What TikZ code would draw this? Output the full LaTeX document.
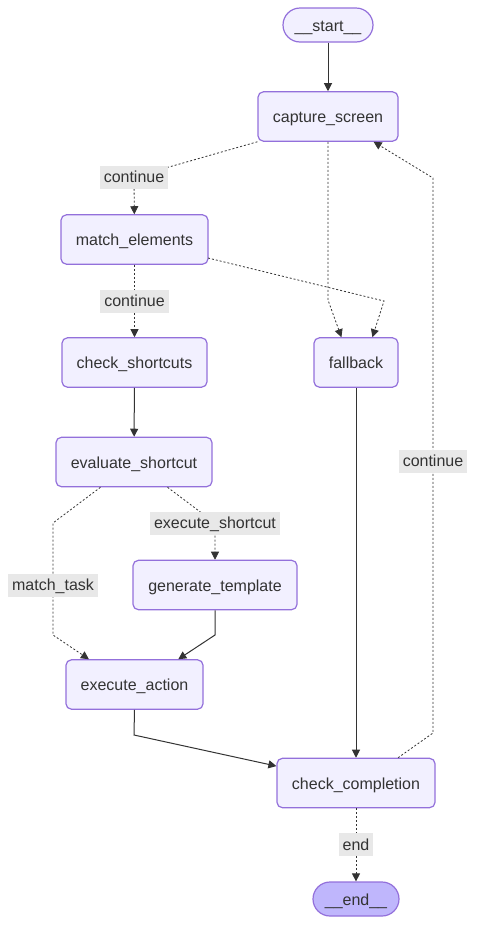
\documentclass[tikz,border=0pt]{standalone}
\usepackage{fontspec}
\setmainfont{Liberation Sans}
\usetikzlibrary{arrows.meta}
\definecolor{mfill}{HTML}{F2F0FF}
\definecolor{mstroke}{HTML}{9370DB}
\definecolor{mterm}{HTML}{BFB6FC}
\definecolor{mtext}{HTML}{333333}
\definecolor{mlab}{HTML}{E8E8E8}
\tikzset{mnode/.style={draw=mstroke,fill=mfill,rounded corners=4pt,line width=0.9pt,minimum height=37pt,inner sep=0pt,text=mtext,text height=11.5pt,text depth=2.5pt,font=\fontsize{12}{14}\selectfont}}
\tikzset{mpill/.style={mnode,rounded corners=12.75pt,minimum height=25.5pt}}
\tikzset{medge/.style={draw=mtext,line width=0.75pt,-{Triangle[length=6pt,width=6pt]}}}
\tikzset{mdot/.style={medge,line width=0.6pt,dash pattern=on 1.5pt off 1.5pt}}
\tikzset{mlabel/.style={fill=mlab,text=mtext,font=\fontsize{12}{14}\selectfont,inner sep=0pt,inner xsep=3pt,text height=11pt,text depth=2.5pt,minimum height=17.25pt}}

\begin{document}
\begin{tikzpicture}[x=0.75pt,y=-0.75pt]
\useasboundingbox (0,0) rectangle (476,925);

\node[mpill,minimum width=67.5pt] (start) at (328,25) {\_\_start\_\_};
\node[mnode,minimum width=105pt] (capture) at (328,116.5) {capture\_screen};
\node[mnode,minimum width=110.25pt] (match) at (134.5,239.5) {match\_elements};
\node[mnode,minimum width=108.75pt] (shortcuts) at (134.5,362.5) {check\_shortcuts};
\node[mnode,minimum width=63pt] (fallback) at (356,362.5) {fallback};
\node[mnode,minimum width=117pt] (evaluate) at (134,462) {evaluate\_shortcut};
\node[mnode,minimum width=123pt] (generate) at (215,585) {generate\_template};
\node[mnode,minimum width=102.75pt] (execute) at (134.5,684.5) {execute\_action};
\node[mnode,minimum width=118.5pt] (completion) at (356,783) {check\_completion};
\node[mpill,fill=mterm,minimum width=64.5pt] (theend) at (356,899) {\_\_end\_\_};

\draw[medge] (start) -- (capture);
\draw[mdot] (capture.south west) -- (134,177) node[mlabel] {continue} -- (match);
\draw[mdot] (capture.south) -- (328,300) -- (fallback.120);
\draw[mdot] (208,258) -- (384,301) -- (fallback.57);
\draw[mdot] (match) -- node[mlabel] {continue} (shortcuts);
\draw[medge] (shortcuts) -- (evaluate);
\draw[mdot] (evaluate.-37) -- (215,523) node[mlabel] {execute\_shortcut} -- (generate);
\draw[mdot] (evaluate.-143) -- (53,523) -- (53,585) node[mlabel] {match\_task} -- (53,635) -- (execute.151);
\draw[medge] (generate.south) -- (215,635) -- (execute.30);
\draw[medge] (execute.south) -- (134,735) -- (completion.168);
\draw[medge] (fallback) -- (completion);
\draw[mdot] (completion.31) -- (433,733) -- (433,461) node[mlabel] {continue} -- (433,178) -- (capture.-29);
\draw[mdot] (completion) -- node[mlabel] {end} (theend);

\end{tikzpicture}
\end{document}
